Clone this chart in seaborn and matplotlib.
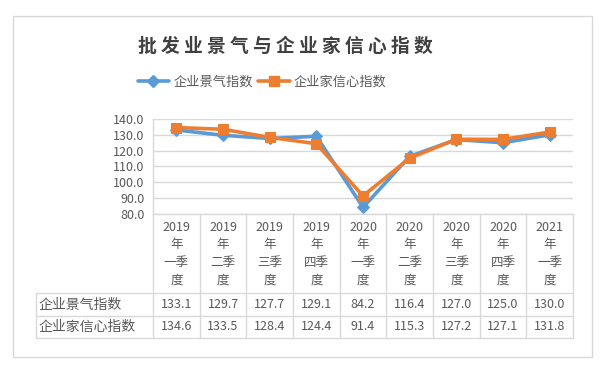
import matplotlib
matplotlib.use("Agg")
import matplotlib.pyplot as plt
import seaborn as sns
import pandas as pd
from matplotlib.patches import Rectangle
from matplotlib.lines import Line2D

# data
years = ["2019", "2019", "2019", "2019", "2020", "2020", "2020", "2020", "2021"]
seasons = ["一季", "二季", "三季", "四季", "一季", "二季", "三季", "四季", "一季"]
series_names = ["企业景气指数", "企业家信心指数"]
prosperity = [133.1, 129.7, 127.7, 129.1, 84.2, 116.4, 127.0, 125.0, 130.0]
confidence = [134.6, 133.5, 128.4, 124.4, 91.4, 115.3, 127.2, 127.1, 131.8]
y_ticks = [80, 90, 100, 110, 120, 130, 140]

title = "批发业景气与企业家信心指数"
categories = [f"{y}\n年\n{s}\n度" for y, s in zip(years, seasons)]

blue = "#5B9BD5"
orange = "#ED7D31"
gray_text = "#595959"
line_gray = "#D9D9D9"

sns.set_theme(style="white")
plt.rcParams["font.family"] = ["Noto Sans CJK SC", "DejaVu Sans"]

W, H = 600, 371
fig = plt.figure(figsize=(6, 3.71), dpi=100)


def fx(px):
    return px / W


def fy(py):
    return 1 - py / H


# outer chart border
fig.patches.append(Rectangle((fx(13), fy(357)), (592 - 13) / W, (357 - 16) / H,
                             transform=fig.transFigure, fill=False,
                             edgecolor=line_gray, lw=1))

ax = fig.add_axes([fx(153), fy(214), (573 - 153) / W, (214 - 119) / H])

styles = [(prosperity, blue, "D", 6), (confidence, orange, "s", 7)]
for name, (vals, color, marker, ms) in zip(series_names, styles):
    df = pd.DataFrame({"季度": categories, "指数": vals})
    sns.lineplot(data=df, x="季度", y="指数", color=color, marker=marker,
                 markersize=ms, markeredgecolor=color, lw=2.6, sort=False,
                 ax=ax, label=name, legend=False)

ax.set_xlim(-0.5, len(categories) - 0.5)
ax.set_ylim(80, 140)
ax.set_yticks(y_ticks)
ax.set_yticklabels([f"{t:.1f}" for t in y_ticks], fontsize=9, color=gray_text)
ax.set_xticks(range(len(categories)))
ax.set_xticklabels(categories, fontsize=9, color=gray_text, linespacing=1.45)
ax.tick_params(axis="both", length=0, pad=6)
ax.tick_params(axis="x", pad=5)
ax.set_xlabel("")
ax.set_ylabel("")
ax.grid(axis="y", color=line_gray, lw=1)
for side in ["top", "right"]:
    ax.spines[side].set_visible(False)
for side in ["left", "bottom"]:
    ax.spines[side].set_color(line_gray)
    ax.spines[side].set_linewidth(1)

# data table under the chart
tax = fig.add_axes([fx(153), fy(338), (573 - 153) / W, (338 - 214) / H])
tax.set_xlim(-0.5, len(categories) - 0.5)
tax.set_ylim(338, 214)
tax.axis("off")
x0 = -0.5 - (153 - 36) / (420 / len(categories))
for k in range(len(categories) + 1):
    tax.plot([k - 0.5, k - 0.5], [214, 338], color=line_gray, lw=1, clip_on=False)
tax.plot([x0, x0], [293, 338], color=line_gray, lw=1, clip_on=False)
for yl in [293, 316, 338]:
    tax.plot([x0, len(categories) - 0.5], [yl, yl], color=line_gray, lw=1, clip_on=False)

for row_y, name, vals in zip([304.5, 327], series_names, [prosperity, confidence]):
    tax.text(x0 + 0.06, row_y, name, ha="left", va="center", fontsize=10,
             color=gray_text, clip_on=False)
    for i, v in enumerate(vals):
        tax.text(i, row_y, f"{v:.1f}", ha="center", va="center", fontsize=9,
                 color=gray_text)

# title and legend
fig.text(fx(285), fy(46), " ".join(title), ha="center", va="center",
         fontsize=13.5, fontweight="bold", color="#404040")

handles = [Line2D([], [], color=c, marker=m, markersize=ms, markeredgecolor=c, lw=2.6)
           for _, c, m, ms in styles]
fig.legend(handles, series_names, loc="center", bbox_to_anchor=(fx(262), fy(82)),
           ncol=2, frameon=False, fontsize=9.5, handlelength=2.4,
           handletextpad=0.3, columnspacing=0.4, labelcolor=gray_text)

fig.savefig("out.png", dpi=100)
